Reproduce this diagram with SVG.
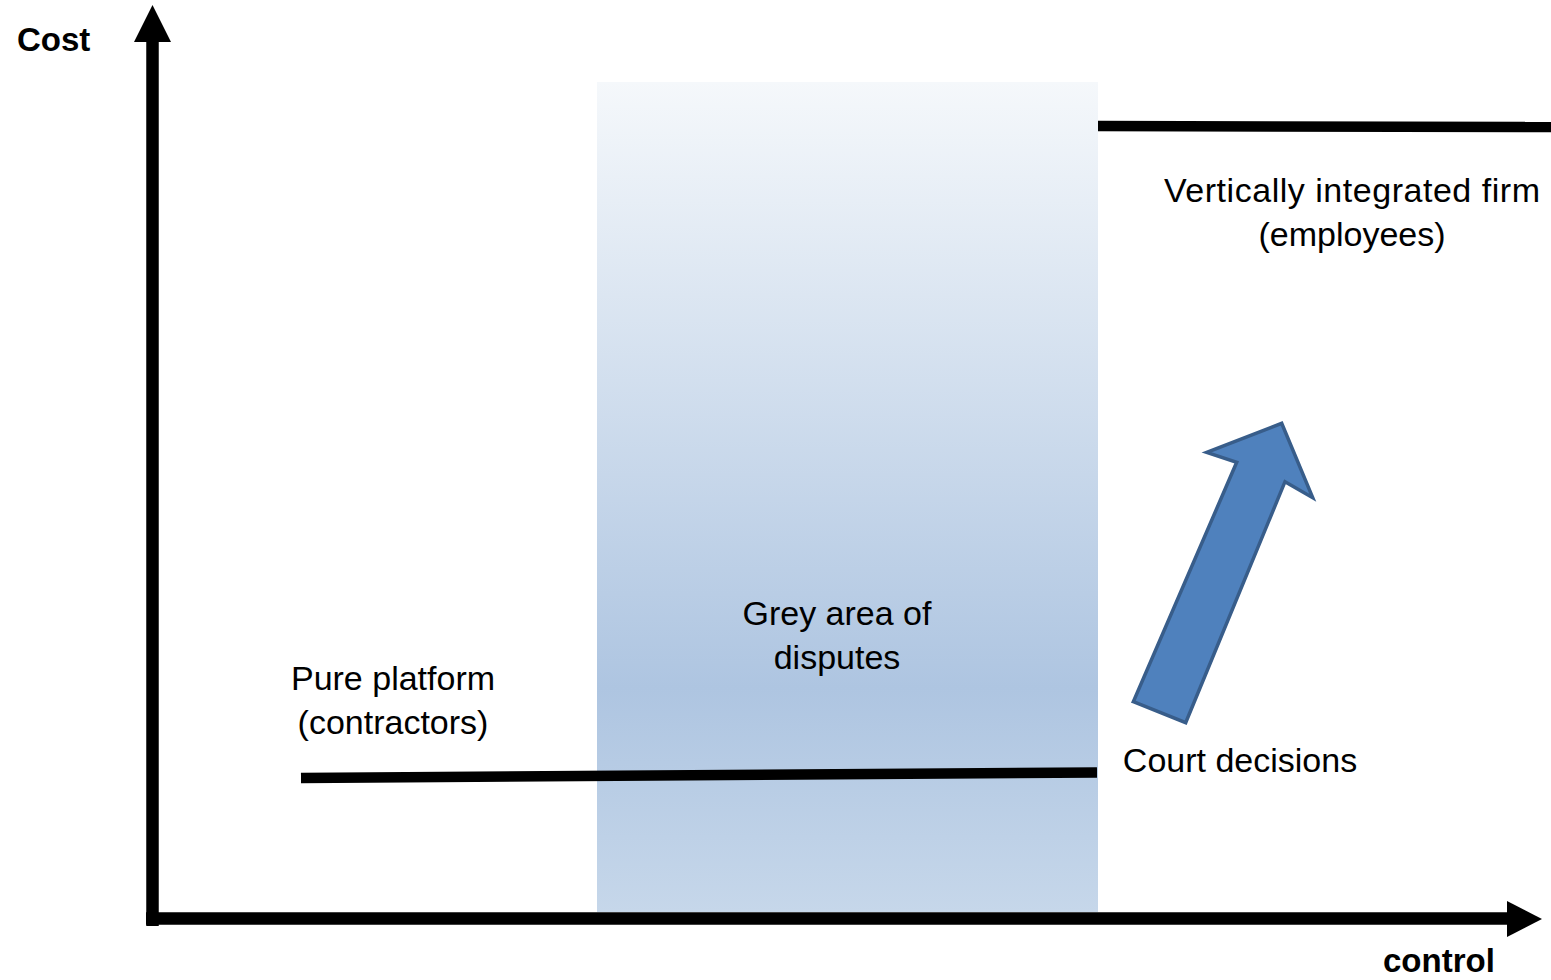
<svg xmlns="http://www.w3.org/2000/svg" width="1551" height="980" viewBox="0 0 1551 980">
<style>
.lbl{font-family:"Liberation Sans",Arial,sans-serif;font-size:34px;fill:#000;text-anchor:middle}
.axl{font-family:"Liberation Sans",Arial,sans-serif;font-size:33px;font-weight:bold;fill:#000}
.ln{stroke:#000;stroke-width:10.5;fill:none}
.ax{stroke:#000;stroke-width:12.5;fill:none}
</style>
<defs>
<linearGradient id="grey" x1="0" y1="0" x2="0" y2="1">
<stop offset="0" stop-color="#F5F8FB"/>
<stop offset="0.73" stop-color="#AEC5E1"/>
<stop offset="1" stop-color="#C6D7EA"/>
</linearGradient>
</defs>
<rect width="1551" height="980" fill="#fff"/>
<g id="grey-area">
<rect x="597" y="82" width="501" height="830" fill="url(#grey)"/>
<text class="lbl" x="837" y="625">Grey area of</text>
<text class="lbl" x="837" y="669">disputes</text>
</g>
<g id="connectors">
<line class="ln" x1="301" y1="778" x2="1097" y2="772.5"/>
<line class="ln" x1="1098" y1="126" x2="1551" y2="127"/>
<line class="ax" x1="152.5" y1="40" x2="152.5" y2="926"/>
<polygon points="152.5,5 134,42 171,42" fill="#000"/>
<line class="ax" x1="146" y1="918.5" x2="1510" y2="918.5"/>
<polygon points="1542,919 1507,901 1507,937" fill="#000"/>
</g>
<g id="court-arrow">
<polygon points="1133.3,701.7 1185.7,722.7 1285,481.7 1312.7,497.7 1281.7,423.3 1206.7,452.3 1236.7,462.3" fill="#4F81BD" stroke="#385D8A" stroke-width="3.5" stroke-linejoin="miter"/>
</g>
<g id="cost-label"><text class="axl" x="17" y="51">Cost</text></g>
<g id="control-label"><text class="axl" x="1383" y="972">control</text></g>
<g id="vertical-firm">
<text class="lbl" x="1352" y="202" textLength="376" lengthAdjust="spacing">Vertically integrated firm</text>
<text class="lbl" x="1352" y="246">(employees)</text>
</g>
<g id="pure-platform">
<text class="lbl" x="393" y="690">Pure platform</text>
<text class="lbl" x="393" y="734">(contractors)</text>
</g>
<g id="court-decisions">
<text class="lbl" x="1240" y="772">Court decisions</text>
</g>
</svg>
